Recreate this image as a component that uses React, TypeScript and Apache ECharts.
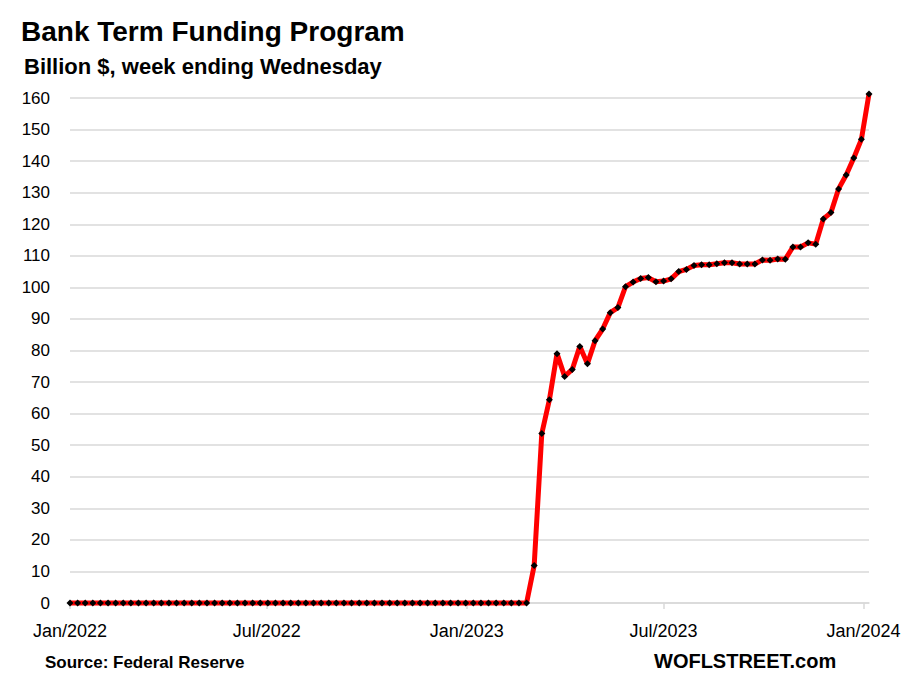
import React, { useEffect, useRef } from "react";
import * as echarts from "echarts";

// Weekly data, week ending Wednesday, starting 2022-01-12
const startDate = "2022-01-12";
const btfpValues: number[] = [
  0, 0, 0, 0, 0, 0, 0, 0, 0, 0,
  0, 0, 0, 0, 0, 0, 0, 0, 0, 0,
  0, 0, 0, 0, 0, 0, 0, 0, 0, 0,
  0, 0, 0, 0, 0, 0, 0, 0, 0, 0,
  0, 0, 0, 0, 0, 0, 0, 0, 0, 0,
  0, 0, 0, 0, 0, 0, 0, 0, 0, 0,
  0,
  11.9, 53.7, 64.4, 79.0, 71.8, 74.0, 81.3, 75.8, 83.1, 86.8,
  92.0, 93.6, 100.2, 101.7, 102.8, 103.1, 101.8, 102.0, 102.7, 105.0,
  105.7, 106.9, 107.2, 107.2, 107.5, 107.8, 107.8, 107.4, 107.4, 107.4,
  108.7, 108.6, 109.0, 108.9, 112.8, 112.8, 114.1, 113.7, 121.7, 123.7,
  131.2, 135.6, 141.0, 146.9, 161.3,
];
// x-axis tick positions, in days after startDate
const tickDays = [0, 181, 365, 546, 730];
const tickLabels = ["Jan/2022", "Jul/2022", "Jan/2023", "Jul/2023", "Jan/2024"];

const titleText = "Bank Term Funding Program";
const subtitleText = "Billion $, week ending Wednesday";
const sourceText = "Source: Federal Reserve";
const brandText = "WOFLSTREET.com";

const FONT = "'Liberation Sans', Arial, sans-serif";

export default function App() {
  const ref = useRef<HTMLDivElement>(null);
  useEffect(() => {
    if (!ref.current) return;
    const chart = echarts.init(ref.current, null, { renderer: "svg" });
    const data = btfpValues.map((v, i) => [i * 7, v]);
    chart.setOption({
      animation: false,
      backgroundColor: "#ffffff",
      title: [
        {
          text: titleText,
          left: 21,
          top: 17,
          padding: 0,
          textStyle: { fontFamily: FONT, fontWeight: "bold", fontSize: 28, color: "#000" },
        },
        {
          text: subtitleText,
          left: 24,
          top: 55,
          padding: 0,
          textStyle: { fontFamily: FONT, fontWeight: "bold", fontSize: 22, color: "#000" },
        },
        {
          text: sourceText,
          left: 45,
          top: 654,
          padding: 0,
          textStyle: { fontFamily: FONT, fontWeight: "bold", fontSize: 17, color: "#000" },
        },
        {
          text: brandText,
          left: 654,
          top: 651,
          padding: 0,
          textStyle: { fontFamily: FONT, fontWeight: "bold", fontSize: 20, color: "#000" },
        },
      ],
      grid: { left: 70, right: 38, top: 98, bottom: 80, containLabel: false },
      xAxis: {
        type: "value",
        min: 0,
        max: 735,
        axisLine: { show: true, lineStyle: { color: "#d9d9d9", width: 1.5 } },
        axisTick: {
          show: true,
          customValues: tickDays,
          length: 6,
          lineStyle: { color: "#d9d9d9", width: 1.5 },
        },
        axisLabel: {
          customValues: tickDays,
          formatter: (v: number) => {
            const idx = tickDays.indexOf(Math.round(v));
            return idx >= 0 ? tickLabels[idx] : "";
          },
          margin: 19,
          fontFamily: FONT,
          fontSize: 18,
          color: "#000",
        },
        splitLine: { show: false },
      },
      yAxis: {
        type: "value",
        min: 0,
        max: 160,
        interval: 10,
        axisLine: { show: false },
        axisTick: { show: false },
        axisLabel: { margin: 20, fontFamily: FONT, fontSize: 17, color: "#000" },
        splitLine: { lineStyle: { color: "#d9d9d9", width: 1.5 } },
      },
      series: [
        {
          type: "line",
          data,
          clip: false,
          symbol: "diamond",
          symbolSize: 7,
          itemStyle: { color: "#000" },
          lineStyle: { color: "#ff0000", width: 5 },
          z: 3,
        },
      ],
    });
    return () => chart.dispose();
  }, []);
  return <div ref={ref} style={{ width: 907, height: 683, position: "absolute", left: 0, top: 0 }} />;
}
